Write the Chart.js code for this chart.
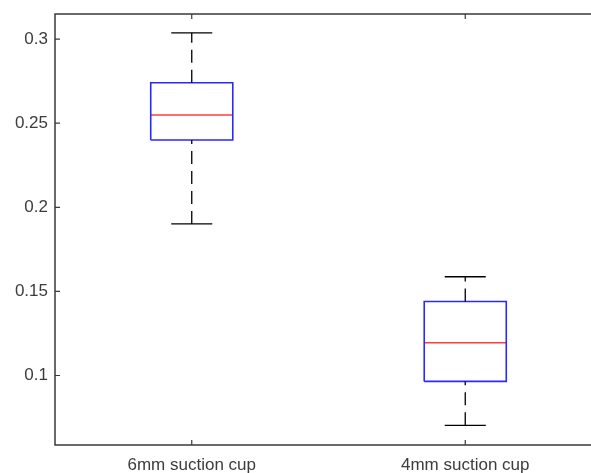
<!DOCTYPE html>
<html>
<head>
<meta charset="utf-8">
<script src="https://cdn.jsdelivr.net/npm/chart.js@4"></script>
<style>
  html, body { margin: 0; padding: 0; background: #fff; }
  #wrap { width: 591px; height: 473px; overflow: hidden; }
</style>
</head>
<body>
<div id="wrap">
  <canvas id="boxChart" width="620" height="473"></canvas>
</div>
<script>
// --- DATA ---

const categories = ['6mm suction cup', '4mm suction cup'];
const lowerWhisker = [0.1901, 0.0704];
const q1 = [0.2400, 0.0965];
const median = [0.2549, 0.1195];
const q3 = [0.2740, 0.1440];
const upperWhisker = [0.3037, 0.1587];
const yTicks = [0.1, 0.15, 0.2, 0.25, 0.3];

// --- STYLE ---

const axisColor = '#3a3a3a';
const textColor = '#3c3c3c';
const boxHalf = 0.15;
const capHalf = 0.075;

// --- BUILD DATASETS FROM THE ARRAYS ---

const datasets = [];
categories.forEach(function(cat, i) {
  const pos = i + 1;

  // whiskers, drawn from low value to high value like MATLAB
  datasets.push({
    data: [{ x: pos, y: lowerWhisker[i] }, { x: pos, y: q1[i] }],
    borderColor: '#000', borderWidth: 1.3, borderDash: [13, 7]
  });
  datasets.push({
    data: [{ x: pos, y: q3[i] }, { x: pos, y: upperWhisker[i] }],
    borderColor: '#000', borderWidth: 1.3, borderDash: [13, 7]
  });

  // caps
  datasets.push({
    data: [{ x: pos - capHalf, y: lowerWhisker[i] }, { x: pos + capHalf, y: lowerWhisker[i] }],
    borderColor: '#000', borderWidth: 1.3
  });
  datasets.push({
    data: [{ x: pos - capHalf, y: upperWhisker[i] }, { x: pos + capHalf, y: upperWhisker[i] }],
    borderColor: '#000', borderWidth: 1.3
  });

  // box
  datasets.push({
    data: [
      { x: pos - boxHalf, y: q1[i] },
      { x: pos + boxHalf, y: q1[i] },
      { x: pos + boxHalf, y: q3[i] },
      { x: pos - boxHalf, y: q3[i] },
      { x: pos - boxHalf, y: q1[i] }
    ],
    borderColor: 'rgb(40, 40, 255)', borderWidth: 1.6
  });

  // median
  datasets.push({
    data: [{ x: pos - boxHalf, y: median[i] }, { x: pos + boxHalf, y: median[i] }],
    borderColor: 'rgb(255, 60, 60)', borderWidth: 1.4
  });
});

datasets.forEach(function(ds) {
  ds.pointRadius = 0;
  ds.fill = false;
  ds.tension = 0;
});

// --- FRAME + INWARD TICKS (matlab look) ---

const framePlugin = {
  id: 'frame',
  afterDraw: function(chart) {
    const c = chart.ctx;
    const a = chart.chartArea;
    const xs = chart.scales.x;
    const ys = chart.scales.y;
    c.save();
    c.strokeStyle = axisColor;
    c.lineWidth = 1.5;
    c.beginPath();
    c.moveTo(a.left, a.top);
    c.lineTo(a.right, a.top);
    c.lineTo(a.right, a.bottom);
    c.lineTo(a.left, a.bottom);
    c.closePath();
    c.stroke();

    c.lineWidth = 1.2;
    c.beginPath();
    ys.ticks.forEach(function(t) {
      const y = ys.getPixelForValue(t.value);
      c.moveTo(a.left, y);
      c.lineTo(a.left + 5, y);
      c.moveTo(a.right, y);
      c.lineTo(a.right - 5, y);
    });
    xs.ticks.forEach(function(t) {
      const x = xs.getPixelForValue(t.value);
      c.moveTo(x, a.bottom);
      c.lineTo(x, a.bottom - 5);
      c.moveTo(x, a.top);
      c.lineTo(x, a.top + 5);
    });
    c.stroke();
    c.restore();
  }
};

// --- CHART ---

const ctx = document.getElementById('boxChart').getContext('2d');
const boxChart = new Chart(ctx, {
  type: 'line',
  data: { datasets: datasets },
  options: {
    responsive: false,
    animation: false,
    layout: { padding: { top: 14, right: 18, left: 0, bottom: 0 } },
    plugins: {
      legend: { display: false },
      tooltip: { enabled: false }
    },
    scales: {
      x: {
        type: 'linear',
        min: 0.5,
        max: 2.5,
        grid: { display: false, drawTicks: false },
        border: { display: false },
        afterBuildTicks: function(scale) {
          scale.ticks = categories.map(function(c, i) { return { value: i + 1 }; });
        },
        afterFit: function(scale) {
          scale.height = 28;
          scale.paddingLeft = 0;
          scale.paddingRight = 0;
        },
        ticks: {
          padding: 10,
          maxRotation: 0,
          color: textColor,
          font: { family: '"Liberation Sans", Arial, sans-serif', size: 17 },
          callback: function(v) { return categories[Math.round(v) - 1]; }
        }
      },
      y: {
        type: 'linear',
        min: 0.0587,
        max: 0.3149,
        grid: { display: false, drawTicks: false },
        border: { display: false },
        afterBuildTicks: function(scale) {
          scale.ticks = yTicks.map(function(v) { return { value: v }; });
        },
        afterFit: function(scale) {
          scale.width = 55;
          scale.paddingTop = 0;
          scale.paddingBottom = 0;
        },
        ticks: {
          padding: 7,
          color: textColor,
          font: { family: '"Liberation Sans", Arial, sans-serif', size: 17 },
          callback: function(v) { return String(Math.round(v * 100) / 100); }
        }
      }
    }
  },
  plugins: [framePlugin]
});
</script>
</body>
</html>
